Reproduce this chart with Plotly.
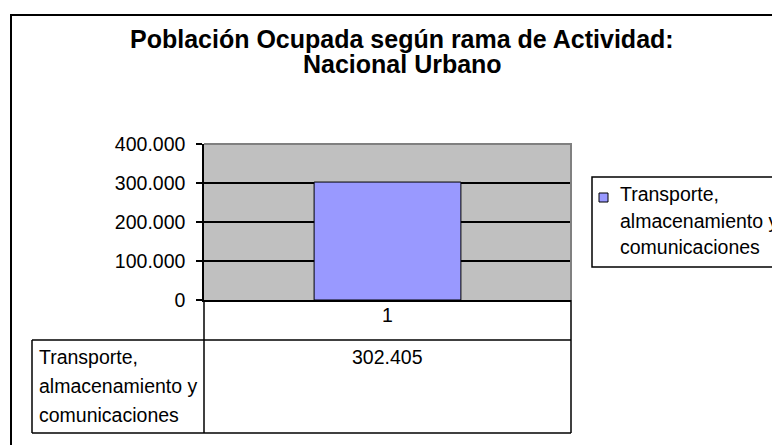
import plotly.graph_objects as go

# datos
categorias = ["1"]
serie_lineas = ["Transporte,", "almacenamiento y", "comunicaciones"]
serie_nombre = " ".join(serie_lineas)
valores = [302405]
ticks_y = [0, 100000, 200000, 300000, 400000]
ticks_y_texto = ["0", "100.000", "200.000", "300.000", "400.000"]
titulo = ["Población Ocupada según rama de Actividad:", "Nacional Urbano"]

W, H = 780, 445
OFF = 8  # margen por defecto del <body> de la pagina
FUENTE = "Liberation Sans, Arial, sans-serif"


def px(x):
    return (x - OFF) / W


def py(y):
    return 1 - (y - OFF) / H


def miles(v):
    return f"{v:,}".replace(",", ".")


fig = go.Figure()
fig.add_trace(go.Bar(
    x=categorias,
    y=valores,
    name=serie_nombre,
    width=0.4,
    marker=dict(color="#9999FF", line=dict(color="black", width=1)),
    showlegend=False,
))

lineas = []


def linea(x0, y0, x1, y1, color="black", ancho=1.5):
    lineas.append(dict(type="line", xref="paper", yref="paper",
                       x0=px(x0), y0=py(y0), x1=px(x1), y1=py(y1),
                       line=dict(color=color, width=ancho)))


# borde del grafico
lineas.append(dict(type="rect", xref="paper", yref="paper",
                   x0=px(11), y0=py(15), x1=px(800), y1=py(460),
                   line=dict(color="black", width=2)))
# borde superior y derecho del area de trazado
linea(204, 144, 572, 144, "#808080", 2)
linea(571, 144, 571, 300, "#808080", 2)
# tabla de datos
linea(204, 300, 204, 433)
linea(571, 300, 571, 433)
linea(32, 340, 571, 340)
linea(32, 433, 571, 433)
linea(32, 340, 32, 433)

# leyenda
lineas.append(dict(type="rect", xref="paper", yref="paper",
                   x0=px(592), y0=py(177), x1=px(800), y1=py(267),
                   line=dict(color="black", width=1.5)))
lineas.append(dict(type="rect", xref="paper", yref="paper",
                   x0=px(599), y0=py(193), x1=px(608), y1=py(202),
                   fillcolor="#9999FF", line=dict(color="black", width=1)))

notas = []
for texto, yc in zip(titulo, [39.5, 64]):
    notas.append(dict(text=texto, xref="paper", yref="paper", x=px(402), y=py(yc),
                      xanchor="center", yanchor="middle", showarrow=False,
                      font=dict(family=FUENTE, size=25, color="black", weight="bold")))

for i, v in enumerate(valores):
    notas.append(dict(text=miles(v), xref="x", yref="paper", x=i, y=py(356.5),
                      xanchor="center", yanchor="middle", showarrow=False,
                      font=dict(family=FUENTE, size=19.5, color="black")))

for texto, yc in zip(serie_lineas, [356.5, 385.5, 415]):
    notas.append(dict(text=texto, xref="paper", yref="paper", x=px(37), y=py(yc),
                      xanchor="left", yanchor="middle", showarrow=False,
                      font=dict(family=FUENTE, size=19.5, color="black")))

for texto, yc in zip(serie_lineas, [194, 221, 247]):
    notas.append(dict(text=texto, xref="paper", yref="paper", x=px(618), y=py(yc),
                      xanchor="left", yanchor="middle", showarrow=False,
                      font=dict(family=FUENTE, size=19.5, color="black")))

fig.update_layout(
    width=W,
    height=H,
    margin=dict(l=0, r=0, t=0, b=0, autoexpand=False),
    paper_bgcolor="white",
    plot_bgcolor="#C0C0C0",
    font=dict(family=FUENTE, size=19.5, color="black"),
    showlegend=False,
    xaxis=dict(
        domain=[px(204), px(571)],
        type="category",
        range=[-0.5, 0.5],
        showgrid=False,
        zeroline=False,
        showline=True,
        linecolor="black",
        linewidth=2,
        ticks="",
        ticklabelstandoff=-3,
        tickfont=dict(size=19.5),
        fixedrange=True,
    ),
    yaxis=dict(
        domain=[py(300), py(144)],
        range=[0, 400000],
        tickvals=ticks_y,
        ticktext=ticks_y_texto,
        ticks="outside",
        ticklen=6,
        tickwidth=1.5,
        tickcolor="black",
        ticklabelstandoff=7,
        showline=True,
        linecolor="black",
        linewidth=1.5,
        showgrid=True,
        gridcolor="black",
        gridwidth=1.5,
        zeroline=False,
        tickfont=dict(size=19.5),
        fixedrange=True,
    ),
    shapes=lineas,
    annotations=notas,
)

fig.write_html("out.html")
